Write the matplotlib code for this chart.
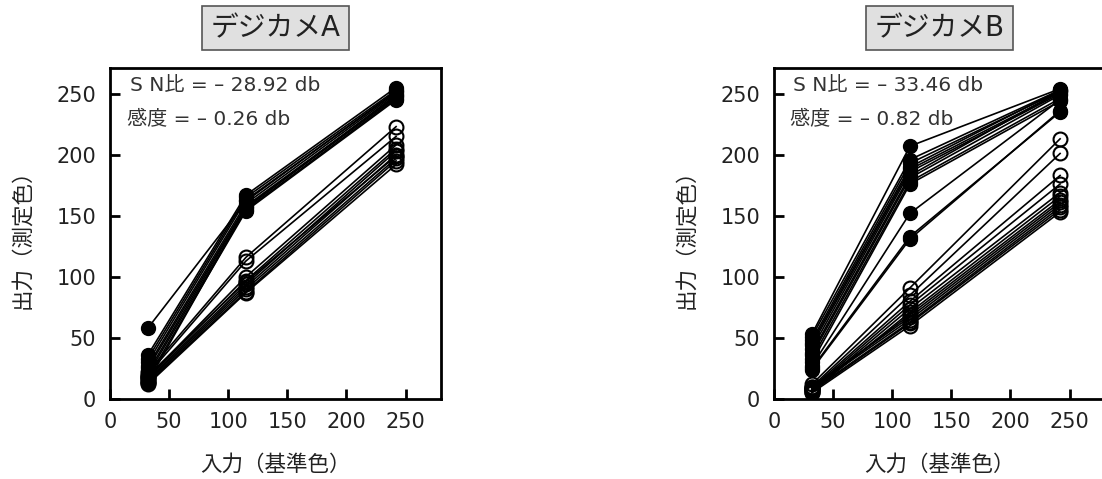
import matplotlib
matplotlib.use("Agg")
import matplotlib.pyplot as plt

plt.rcParams['font.family'] = ['DejaVu Sans', 'Noto Sans CJK JP']

x_in = [32, 115, 242]

# デジカメA
a_filled = [
    [58, 162, 252],
    [36, 167, 255],
    [33, 165, 253],
    [30, 163, 251],
    [27, 160, 250],
    [25, 158, 248],
    [22, 157, 247],
    [20, 155, 246],
    [17, 154, 245],
    [14, 156, 249],
]
a_hollow = [
    [22, 116, 223],
    [20, 113, 215],
    [18, 100, 208],
    [17, 97, 205],
    [16, 94, 203],
    [15, 92, 200],
    [14, 90, 197],
    [13, 88, 195],
    [12, 87, 192],
    [19, 96, 199],
]

# デジカメB
b_filled = [
    [53, 207, 254],
    [51, 196, 253],
    [48, 193, 252],
    [46, 190, 253],
    [44, 188, 251],
    [41, 186, 250],
    [38, 183, 252],
    [36, 181, 249],
    [33, 178, 246],
    [30, 176, 244],
    [27, 152, 245],
    [25, 133, 235],
    [24, 131, 236],
]
b_hollow = [
    [12, 91, 213],
    [10, 85, 201],
    [9, 80, 183],
    [8, 77, 176],
    [7, 74, 169],
    [6, 71, 166],
    [8, 69, 163],
    [10, 67, 161],
    [9, 65, 159],
    [7, 63, 157],
    [6, 62, 155],
    [5, 60, 153],
]

titles = ['デジカメA', 'デジカメB']
sn_text = ['S N比 = – 28.92 db', 'S N比 = – 33.46 db']
kando_text = ['感度 = – 0.26 db', '感度 = – 0.82 db']

fig = plt.figure(figsize=(11.02, 4.79), dpi=100)
W, H = 1102, 479
positions = [
    [110 / W, (479 - 399) / H, 331 / W, 331 / H],
    [774 / W, (479 - 399) / H, 331 / W, 331 / H],
]

panels = [(a_filled, a_hollow), (b_filled, b_hollow)]

for i, (filled, hollow) in enumerate(panels):
    ax = fig.add_axes(positions[i])
    for ys in hollow:
        ax.plot(x_in, ys, color='black', lw=1.2, marker='o', ms=10,
                mfc='none', mec='black', mew=1.5)
    for ys in filled:
        ax.plot(x_in, ys, color='black', lw=1.2, marker='o', ms=10,
                mfc='black', mec='black')

    ax.set_xlim(0, 280)
    ax.set_ylim(0, 271)
    ax.set_xticks([0, 50, 100, 150, 200, 250])
    ax.set_yticks([0, 50, 100, 150, 200, 250])
    ax.tick_params(direction='in', length=7, width=2, labelsize=15,
                   labelcolor='#222222')
    ax.tick_params(axis='y', pad=10)
    ax.tick_params(axis='x', pad=9)
    for sp in ax.spines.values():
        sp.set_linewidth(2)

    ax.set_xlabel('入力（基準色）', fontsize=15.5, color='#222222')
    ax.xaxis.set_label_coords(0.5, -0.165)
    ax.set_ylabel('出力（測定色）', fontsize=15.5, color='#222222')
    ax.yaxis.set_label_coords(-0.235, 0.5)

    ax.text(0.5, 1 + 40 / 331, titles[i], transform=ax.transAxes,
            ha='center', va='center', fontsize=20, color='#222222',
            bbox=dict(boxstyle='square,pad=0.3', fc='#e0e0e0', ec='#555555', lw=1.2))

    ax.text(0.06 - 0.003 * i, 0.946, sn_text[i], transform=ax.transAxes,
            ha='left', va='center', fontsize=14.5, color='#333333')
    ax.text(0.051 - 0.003 * i, 0.846, kando_text[i], transform=ax.transAxes,
            ha='left', va='center', fontsize=14.5, color='#333333')

fig.savefig('out.png', dpi=100)
